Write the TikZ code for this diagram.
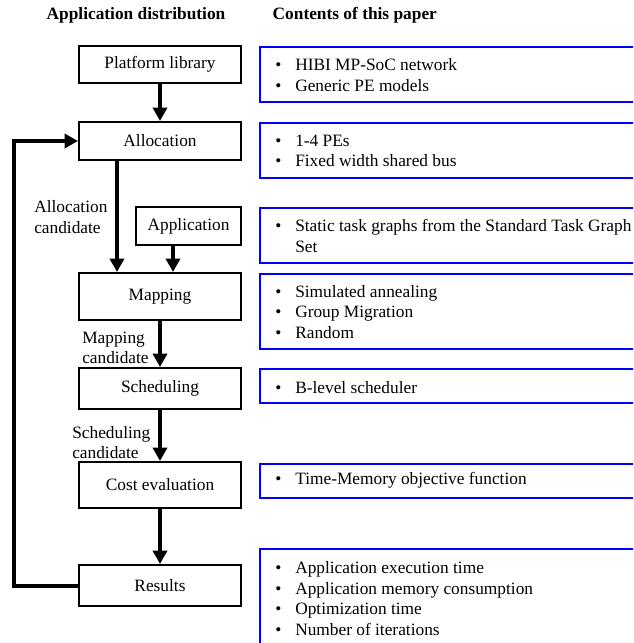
\documentclass[tikz,border=0pt]{standalone}
\usepackage{fontspec}
\setmainfont{Liberation Serif}
\usetikzlibrary{arrows.meta}
\newcommand\itm{\makebox[15pt][l]{\textbullet}}

\begin{document}
\begin{tikzpicture}[x=0.75pt,y=-0.75pt,
  font=\fontsize{13}{15.5}\selectfont,
  stage/.style={draw,line width=1.5pt,minimum width=121.5pt,inner sep=0pt},
  flow/.style={line width=3pt,-{Triangle[length=10pt,width=10.5pt]}},
  info/.style={draw=blue,line width=1.4pt,anchor=north west,minimum width=330pt,inner sep=0pt},
  items/.style={anchor=west,align=left,inner sep=0pt},
  note/.style={anchor=west,align=left,inner sep=0pt}]
\useasboundingbox (0,0) rectangle (633,643);
\clip (0,0) rectangle (633,643);

\node [font=\fontsize{13}{15.5}\selectfont\bfseries] (head1) at (136,15) {Application distribution};
\node [font=\fontsize{13}{15.5}\selectfont\bfseries,anchor=west] (head2) at (268,15) {Contents of this paper};

\node [stage,minimum height=27.75pt] (plat) at (160,64.5) {Platform library};
\node [stage,minimum height=28.5pt] (alloc) at (160,141) {Allocation};
\node [stage,minimum height=28.5pt,minimum width=78.75pt] (app) at (188.5,226) {Application};
\node [stage,minimum height=35.25pt] (map) at (160,296.5) {Mapping};
\node [stage,minimum height=30.75pt] (sched) at (160,388.5) {Scheduling};
\node [stage,minimum height=34.5pt] (cost) at (160,485) {Cost evaluation};
\node [stage,minimum height=30.75pt] (res) at (160,585.5) {Results};

\coordinate (fb) at (14,0);
\coordinate (acx) at (117,0);
\coordinate (apx) at (173,0);

\draw [flow] (plat) -- (alloc);
\draw [flow] (alloc.south -| acx) -- (map.north -| acx);
\draw [flow] (app.south -| apx) -- (map.north -| apx);
\draw [flow] (map) -- (sched);
\draw [flow] (sched) -- (cost);
\draw [flow] (cost) -- (res);
\draw [flow] (res.west) -- (res.west -| fb) |- (alloc.west);

\node [note] (lalloc) at (34,217) {Allocation\\candidate};
\node [note] (lmap) at (82,348) {Mapping\\candidate};
\node [note] (lsched) at (72,442.5) {Scheduling\\candidate};

\node [info,minimum height=41.25pt] (i1) at (259,46) {};
\node [info,minimum height=41.25pt] (i2) at (259,122) {};
\node [info,minimum height=41.25pt] (i3) at (259,207) {};
\node [info,minimum height=56.25pt] (i4) at (259,273) {};
\node [info,minimum height=25.5pt] (i5) at (259,368) {};
\node [info,minimum height=25.5pt] (i6) at (259,463) {};
\node [info,minimum height=90pt] (i7) at (259,548) {};

\node [items] (t1) at (275,75) {\itm HIBI MP-SoC network\\\itm Generic PE models};
\node [items] (t2) at (275,151) {\itm 1-4 PEs\\\itm Fixed width shared bus};
\node [items] (t3) at (275,236) {\itm Static task graphs from the Standard Task Graph\\\hspace*{15pt}Set};
\node [items] (t4) at (275,312) {\itm Simulated annealing\\\itm Group Migration\\\itm Random};
\node [items] (t5) at (275,388) {\itm B-level scheduler};
\node [items] (t6) at (275,480) {\itm Time-Memory objective function};
\node [items] (t7) at (275,598.5) {\itm Application execution time\\\itm Application memory consumption\\\itm Optimization time\\\itm Number of iterations};
\end{tikzpicture}
\end{document}
